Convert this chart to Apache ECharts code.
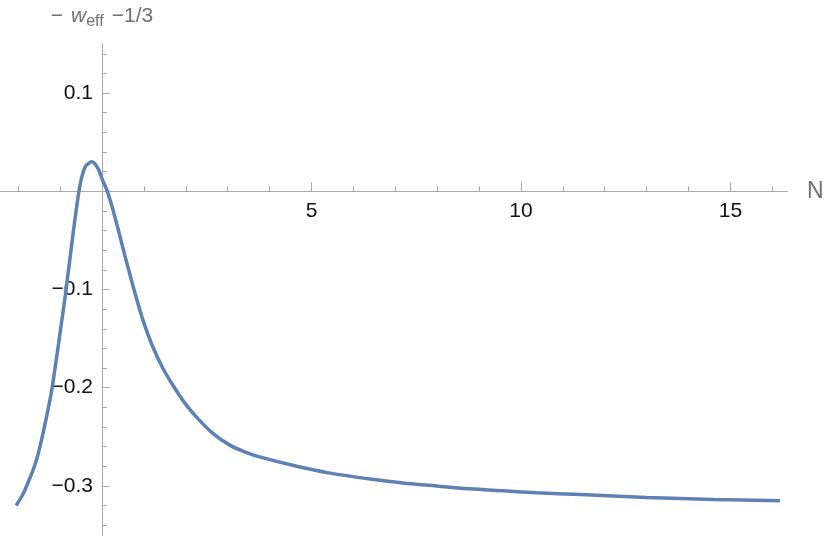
<!DOCTYPE html>
<html>
<head>
<meta charset="utf-8">
<script src="https://cdn.jsdelivr.net/npm/echarts@6/dist/echarts.min.js"></script>
<style>
	html, body { margin: 0; padding: 0; background: #fff; }
	#chart { width: 830px; height: 538px; }
</style>
</head>
<body>
<div id="chart"></div>
<script>
// curve: N vs (-w_eff - 1/3)
const nValues = [
	-2.05, -1.88, -1.74, -1.62, -1.52, -1.34, -1.19, -0.98, -0.86, -0.68, -0.55, -0.48, -0.40, -0.32, -0.246, -0.167, -0.08,
	0.0, 0.127, 0.25, 0.40, 0.55, 0.70, 0.85, 1.0, 1.2, 1.45, 1.7, 2.0, 2.3, 2.66, 3.05, 3.45, 3.85, 4.65,
	5.44, 6.40, 7.19, 7.99, 8.78, 9.58, 10.37, 11.41, 13.0, 14.59, 16.18,
];
const wValues = [
	-0.320, -0.308, -0.294, -0.281, -0.267, -0.233, -0.200, -0.138, -0.101, -0.040, 0.000, 0.015, 0.025, 0.0285, 0.030, 0.028, 0.022,
	0.013, 0.000, -0.017, -0.041, -0.066, -0.090, -0.113, -0.134, -0.157, -0.180, -0.198, -0.217, -0.232, -0.247, -0.2585, -0.266, -0.2715, -0.280,
	-0.287, -0.293, -0.297, -0.300, -0.303, -0.305, -0.307, -0.3088, -0.3118, -0.3138, -0.315,
];

const xMajorTicks = [0, 5, 10, 15];
const xMinorTicks = [-2, -1, 1, 2, 3, 4, 6, 7, 8, 9, 11, 12, 13, 14, 16];
const xTickLabels = [5, 10, 15];
const yMajorTicks = [-0.3, -0.2, -0.1, 0.1];
const yMinorTicks = [-0.34, -0.32, -0.28, -0.26, -0.24, -0.22, -0.18, -0.16, -0.14, -0.12,
	-0.08, -0.06, -0.04, -0.02, 0.02, 0.04, 0.06, 0.08, 0.12, 0.14];
const yTickLabels = [-0.3, -0.2, -0.1, 0.1];

const axisGray = '#a8a8a8';
const titleGray = '#707070';
const labelFont = 'Liberation Sans, Arial, sans-serif';

const chart = echarts.init(document.getElementById('chart'));

const fmtY = (v) => (v < 0 ? '\u2212' : '') + Math.abs(v).toFixed(1);

const xBase = {
	type: 'value',
	min: -2.434,
	max: 16.35,
	position: 'bottom',
	splitLine: { show: false },
	axisLine: { onZero: true, lineStyle: { color: axisGray, width: 1 } },
};

const yBase = {
	type: 'value',
	min: -0.35,
	max: 0.15,
	position: 'left',
	splitLine: { show: false },
	axisLine: { onZero: true, lineStyle: { color: axisGray, width: 1 } },
};

chart.setOption({
	animation: false,
	backgroundColor: '#fff',
	grid: { left: 0, right: 43, top: 44, bottom: 3, outerBoundsMode: 'none' },
	xAxis: [
		Object.assign({}, xBase, {
			name: 'N',
			nameLocation: 'end',
			nameGap: 20,
			nameTextStyle: { color: titleGray, fontSize: 23, fontFamily: labelFont },
			axisTick: { inside: true, length: 9, customValues: xMajorTicks, lineStyle: { color: axisGray } },
			axisLabel: { show: false },
		}),
		Object.assign({}, xBase, {
			axisTick: { inside: true, length: 5, customValues: xMinorTicks, lineStyle: { color: axisGray } },
			axisLabel: { show: false },
		}),
		// label-only axis, moved up onto the zero line
		Object.assign({}, xBase, {
			offset: -344,
			axisLine: { show: false, onZero: false },
			axisTick: { show: false },
			axisLabel: {
				customValues: xTickLabels,
				margin: 10,
				color: '#111',
				fontSize: 21,
				fontFamily: labelFont,
			},
		}),
	],
	yAxis: [
		Object.assign({}, yBase, {
			name: '{m|\u2212}{w|w}{s|eff}{a|\u22121/3}',
			nameLocation: 'end',
			nameGap: 14,
			nameTextStyle: {
				color: titleGray,
				fontFamily: labelFont,
				align: 'center',
				rich: {
					m: { fontSize: 21, color: titleGray, fontFamily: labelFont, padding: [0, 8, 0, 0] },
					a: { fontSize: 21, color: titleGray, fontFamily: labelFont, padding: [0, 0, 0, 8] },
					w: { fontSize: 21, color: titleGray, fontStyle: 'italic', fontFamily: labelFont },
					s: { fontSize: 16, color: titleGray, fontFamily: labelFont, padding: [11, 0, 0, 0] },
				},
			},
			axisTick: { inside: true, length: 8, customValues: yMajorTicks, lineStyle: { color: axisGray } },
			axisLabel: { show: false },
		}),
		Object.assign({}, yBase, {
			axisTick: { inside: true, length: 5, customValues: yMinorTicks, lineStyle: { color: axisGray } },
			axisLabel: { show: false },
		}),
		// label-only axis, moved right onto the zero line
		Object.assign({}, yBase, {
			offset: -102,
			axisLine: { show: false, onZero: false },
			axisTick: { show: false },
			axisLabel: {
				customValues: yTickLabels,
				formatter: fmtY,
				margin: 9,
				color: '#111',
				fontSize: 21,
				fontFamily: labelFont,
			},
		}),
	],
	series: [
		{
			type: 'line',
			xAxisIndex: 0,
			yAxisIndex: 0,
			data: nValues.map((n, i) => [n, wValues[i]]),
			showSymbol: false,
			smooth: 0.3,
			lineStyle: { color: '#5e81b5', width: 3.5 },
		},
	],
});
</script>
</body>
</html>
